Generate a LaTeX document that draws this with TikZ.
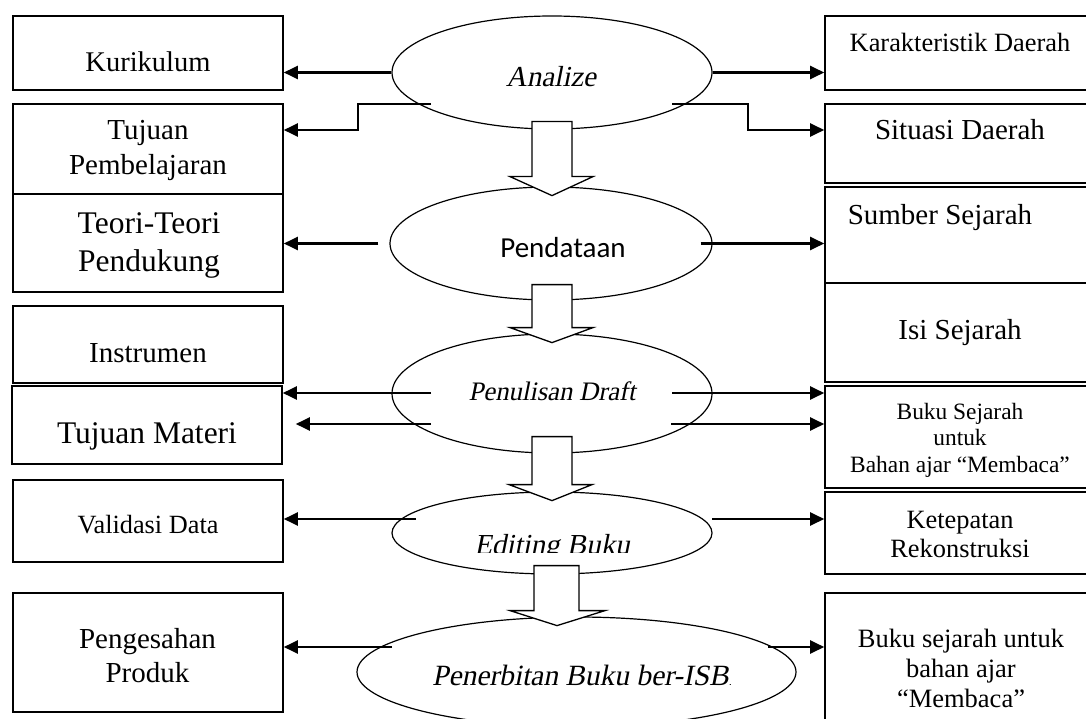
\documentclass[tikz,border=0pt]{standalone}
\usepackage{fontspec}
\setmainfont{Liberation Serif}
\newfontfamily\serifslant{Liberation Serif}[FakeSlant=0.2]
\newfontfamily\calibrifont{Carlito}
\usetikzlibrary{shapes.geometric,arrows.meta}
\begin{document}
\begin{tikzpicture}[x=1pt,y=-1pt,
  box/.style={draw,line width=1.6pt,rectangle,inner sep=0pt,minimum width=270pt},
  ell/.style={draw,line width=1.2pt,ellipse,inner sep=0pt},
  conn/.style={line width=2.2pt,-{Triangle[length=14pt,width=13pt]}},
  blk/.style={draw,fill=white,line width=1.3pt,line join=miter},
  txt/.style={inner sep=0pt,anchor=base,align=center}]
\useasboundingbox (0,0) rectangle (1086,719);
\clip (0,0) rectangle (1086,719);

% ellipses
\node[ell,minimum width=320pt,minimum height=113pt] (an) at (552,72.5) {};
\node[ell,minimum width=322pt,minimum height=113pt] (pd) at (551,243.5) {};
\node[ell,minimum width=320pt,minimum height=119pt] (pw) at (552,393.5) {};
\node[ell,minimum width=320pt,minimum height=82pt] (ed) at (552,533) {};
\node[ell,minimum width=439pt,minimum height=110pt] (pb) at (576.5,672) {};

% ellipse texts
\node[txt,font=\serifslant\fontsize{29}{35}\selectfont] (anT) at (551,87) {Analize};
\node[txt,font=\calibrifont\fontsize{29}{35}\selectfont] (pdT) at (563,258) {Pendataan};
\node[txt,font=\serifslant\fontsize{26.7}{32}\selectfont] (pwT) at (552,400) {Penulisan Draft};
\begin{scope}
\clip (392,490) rectangle (712,552);
\node[txt,font=\serifslant\fontsize{29}{35}\selectfont] (edT) at (552,554) {Editing Buku};
\end{scope}
\begin{scope}
\clip (350,610) rectangle (730,719);
\node[txt,anchor=base west,font=\serifslant\fontsize{29.4}{35}\selectfont] (pbT) at (432,685) {Penerbitan Buku ber-ISBN};
\end{scope}

% block arrows
\draw[blk] ([yshift=8pt]an.south) ++(-20,0) -- ++(40,0) -- ++(0,55) -- ++(21,0) -- ++(-41,19) -- ++(-42,-19) -- ++(22,0) -- cycle;
\draw[blk] ([yshift=16pt]pd.south) ++(-19,0) -- ++(40,0) -- ++(0,43) -- ++(21,0) -- ++(-41,15) -- ++(-42,-15) -- ++(22,0) -- cycle;
\draw[blk] ([yshift=17pt]pw.south) ++(-20,0) -- ++(40,0) -- ++(0,48) -- ++(20,0) -- ++(-40,16) -- ++(-43,-16) -- ++(23,0) -- cycle;
\draw[blk] ([xshift=4.5pt,yshift=9pt]ed.south) ++(-22.5,0) -- ++(45,0) -- ++(0,45) -- ++(26,0) -- ++(-48,15) -- ++(-47,-15) -- ++(24,0) -- cycle;

% left boxes
\node[box,minimum height=74pt] (kur) at (148,53) {};
\node[box,minimum height=90pt] (tp) at (148,149) {};
\node[box,minimum height=98pt] (teo) at (148,243) {};
\node[box,minimum height=77pt] (ins) at (148,344.5) {};
\node[box,minimum height=78pt] (tm) at (147,425) {};
\node[box,minimum height=82pt] (val) at (148,521) {};
\node[box,minimum height=119pt] (pen) at (148,652.5) {};

% right boxes
\node[box,minimum height=74pt] (kd) at (960,53) {};
\node[box,minimum height=79pt] (sd) at (960,143.5) {};
\node[box,minimum height=96pt] (ss) at (960,235) {};
\node[box,minimum height=99pt] (is) at (960,332.5) {};
\node[box,minimum height=102pt] (bs) at (960,437) {};
\node[box,minimum height=82pt] (kt) at (960,533) {};
\node[box,minimum height=147pt] (bb) at (960,666.5) {};

% left texts (multi-line nodes: base = last line)
\node[txt,font=\fontsize{28.5}{34}\selectfont] (kurT) at (148,72) {Kurikulum};
\node[txt,font=\fontsize{29}{35}\selectfont] (tpT) at (148,175) {Tujuan\\Pembelajaran};
\node[txt,font=\fontsize{31.5}{37}\selectfont] (teoT) at (149,271) {Teori-Teori\\Pendukung};
\node[txt,font=\fontsize{29}{35}\selectfont] (insT) at (148,362) {Instrumen};
\node[txt,font=\fontsize{31.5}{37}\selectfont] (tmT) at (147,443) {Tujuan Materi};
\node[txt,font=\fontsize{26.3}{32}\selectfont] (valT) at (148,533) {Validasi Data};
\node[txt,font=\fontsize{29}{34}\selectfont] (penT) at (147.5,682) {Pengesahan\\Produk};

% right texts
\node[txt,font=\fontsize{26.4}{32}\selectfont] (kdT) at (960,52) {Karakteristik Daerah};
\node[txt,font=\fontsize{29}{35}\selectfont] (sdT) at (960,140) {Situasi Daerah};
\node[txt,font=\fontsize{29}{35}\selectfont] (ssT) at (940,225) {Sumber Sejarah};
\node[txt,font=\fontsize{29}{35}\selectfont] (isT) at (960,339) {Isi Sejarah};
\node[txt,font=\fontsize{23.4}{26.5}\selectfont] (bsT) at (960,472) {Buku Sejarah\\untuk\\Bahan ajar “Membaca”};
\node[txt,font=\fontsize{26.4}{29}\selectfont] (ktT) at (960,557) {Ketepatan\\Rekonstruksi};
\node[txt,font=\fontsize{26.5}{30}\selectfont] (bbT) at (961,707) {Buku sejarah untuk\\bahan ajar\\“Membaca”};

% connector start points
\coordinate (a1) at (431,104);
\coordinate (a2) at (672,104);
\coordinate (b1) at (431,393);
\coordinate (b2) at (431,424);
\coordinate (b3) at (672,393);
\coordinate (b4) at (671,424);
\coordinate (c1) at (416,519);
\coordinate (c2) at (712,519);
\coordinate (d1) at (392,647);
\coordinate (d2) at (768,647);

% connectors
\draw[conn] (an.west) -- ([yshift=-19.5pt]kur.east);
\draw[conn] (a1) -- ++(-73,0) -- ++(0,26) -- ([yshift=19pt]tp.east);
\draw[conn] (an.east) -- ([yshift=-19.5pt]kd.west);
\draw[conn] (a2) -- ++(76,0) -- ++(0,26) -- ([yshift=13.5pt]sd.west);
\draw[conn] ([xshift=-11pt]pd.west) -- ([yshift=-0.5pt]teo.east);
\draw[conn] ([xshift=-12pt]pd.east) -- ([yshift=-8.5pt]ss.west);
\draw[conn] (b1) -- ([yshift=32pt]tm.east);
\draw[conn] (b2) -- ([xshift=13pt,yshift=1pt]tm.east);
\draw[conn] (b3) -- ([yshift=44pt]bs.west);
\draw[conn] (b4) -- ([yshift=13pt]bs.west);
\draw[conn] (c1) -- ([yshift=2pt]val.east);
\draw[conn] (c2) -- ([yshift=14pt]kt.west);
\draw[conn] (d1) -- ([yshift=5.5pt]pen.east);
\draw[conn] (d2) -- ([yshift=19.5pt]bb.west);
\end{tikzpicture}
\end{document}
